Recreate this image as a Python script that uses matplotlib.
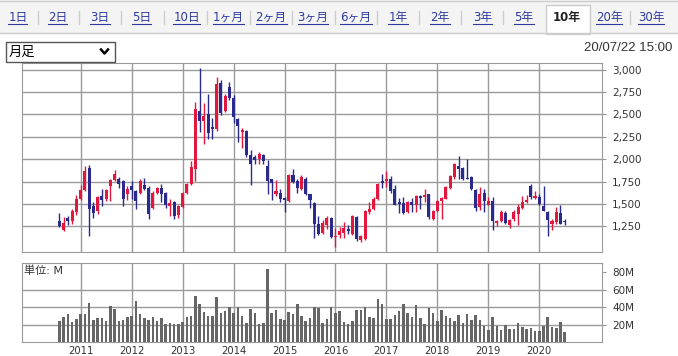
import numpy as np
import pandas as pd
import matplotlib
matplotlib.use('Agg')
import matplotlib.pyplot as plt
from matplotlib.patches import Rectangle
from matplotlib.lines import Line2D

plt.rcParams['font.family'] = ['DejaVu Sans', 'Noto Sans CJK JP']

# monthly candles, Aug 2010 - Jul 2020
months = pd.period_range('2010-08', '2020-07', freq='M')

open_ = [1310, 1213, 1343, 1310, 1407, 1560, 1653, 1903, 1477, 1422,
         1586, 1560, 1701, 1772, 1776, 1753, 1608, 1701, 1645, 1627,
         1709, 1683, 1459, 1623, 1683, 1623, 1474, 1522, 1373, 1466,
         1627, 1720, 1895, 2540, 2425, 2503, 2361, 2332, 2854, 2537,
         2809, 2686, 2444, 2298, 2317, 2052, 2026, 1999, 2044, 1925,
         1776, 1616, 1623, 1567, 1533, 1828, 1753, 1664, 1783, 1608,
         1511, 1272, 1175, 1261, 1347, 1135, 1149, 1179, 1224, 1160,
         1354, 1093, 1104, 1410, 1448, 1552, 1753, 1757, 1783, 1671,
         1522, 1511, 1410, 1522, 1492, 1589, 1578, 1608, 1336, 1418,
         1530, 1560, 1679, 1802, 1925, 1903, 1791, 1802, 1660, 1466,
         1627, 1492, 1530, 1291, 1306, 1403, 1261, 1328, 1384, 1459,
         1522, 1698, 1571, 1578, 1477, 1410, 1272, 1298, 1403, 1306]
high = [1400, 1354, 1362, 1444, 1604, 1709, 1925, 1933, 1522, 1586,
        1668, 1671, 1776, 1877, 1802, 1765, 1698, 1761, 1653, 1783,
        1791, 1698, 1641, 1690, 1727, 1630, 1560, 1530, 1492, 1634,
        1735, 1981, 2641, 3022, 2622, 2723, 2462, 2921, 2884, 2727,
        2865, 2716, 2462, 2350, 2324, 2100, 2052, 2082, 2063, 1988,
        1783, 1765, 1671, 1578, 1832, 1888, 1783, 1820, 1802, 1616,
        1522, 1366, 1317, 1366, 1354, 1231, 1243, 1298, 1261, 1373,
        1366, 1149, 1429, 1522, 1578, 1739, 1839, 1865, 1809, 1709,
        1567, 1578, 1530, 1567, 1597, 1597, 1671, 1616, 1429, 1541,
        1578, 1701, 1821, 1959, 2033, 1914, 2000, 1809, 1671, 1690,
        1671, 1578, 1578, 1317, 1436, 1418, 1336, 1429, 1504, 1586,
        1597, 1727, 1645, 1616, 1701, 1422, 1336, 1466, 1485, 1336]
low = [1240, 1198, 1261, 1280, 1377, 1548, 1645, 1138, 1343, 1392,
       1478, 1530, 1530, 1753, 1683, 1474, 1541, 1560, 1440, 1615,
       1653, 1336, 1448, 1615, 1522, 1459, 1366, 1336, 1347, 1459,
       1615, 1709, 1757, 2298, 2164, 2224, 2220, 2317, 2492, 2529,
       2660, 2406, 2194, 2130, 2026, 1716, 1951, 1951, 1944, 1608,
       1541, 1590, 1522, 1410, 1522, 1739, 1627, 1653, 1597, 1459,
       1123, 1157, 1160, 1224, 1123, 1019, 1119, 1123, 1168, 1149,
       1086, 1075, 1093, 1392, 1436, 1541, 1679, 1690, 1623, 1485,
       1399, 1392, 1403, 1410, 1410, 1448, 1522, 1336, 1325, 1410,
       1336, 1552, 1671, 1783, 1783, 1772, 1775, 1653, 1422, 1436,
       1410, 1485, 1213, 1254, 1298, 1272, 1235, 1306, 1261, 1448,
       1515, 1560, 1560, 1485, 1422, 1138, 1205, 1280, 1272, 1261]
close = [1255, 1287, 1313, 1422, 1560, 1653, 1869, 1448, 1403, 1578,
         1548, 1660, 1765, 1836, 1727, 1552, 1671, 1653, 1533, 1753,
         1671, 1392, 1623, 1683, 1616, 1485, 1515, 1366, 1478, 1627,
         1727, 1914, 2555, 2429, 2485, 2287, 2339, 2835, 2511, 2708,
         2679, 2466, 2373, 2324, 2052, 1951, 1996, 2063, 1981, 1757,
         1739, 1645, 1552, 1548, 1820, 1746, 1683, 1802, 1608, 1548,
         1272, 1160, 1291, 1347, 1131, 1142, 1198, 1235, 1198, 1366,
         1104, 1142, 1422, 1448, 1560, 1727, 1739, 1783, 1642, 1492,
         1504, 1403, 1522, 1492, 1589, 1571, 1604, 1354, 1418, 1530,
         1567, 1690, 1810, 1944, 1895, 1783, 1780, 1664, 1459, 1608,
         1530, 1530, 1306, 1306, 1410, 1287, 1325, 1410, 1466, 1522,
         1541, 1578, 1586, 1504, 1422, 1317, 1310, 1410, 1280, 1298]

# volume in millions
volume = [24.6, 29.1, 32.2, 23.8, 26.9, 32.6, 32.6, 44.8, 25.7, 28.0,
          28.0, 24.6, 41.7, 38.3, 24.6, 25.7, 29.1, 30.3, 47.4, 32.6,
          28.0, 25.7, 29.1, 24.6, 28.0, 21.1, 22.3, 21.1, 21.1, 23.4,
          29.1, 30.3, 53.2, 44.0, 34.9, 30.3, 30.3, 52.0, 33.7, 36.0,
          40.6, 33.7, 40.6, 30.3, 22.3, 38.3, 33.7, 21.1, 22.3, 84.0,
          33.7, 37.1, 26.9, 25.7, 34.9, 32.6, 44.0, 30.3, 24.6, 28.0,
          40.6, 39.4, 22.3, 26.9, 40.4, 33.7, 36.0, 23.8, 21.1, 24.6,
          37.1, 37.1, 40.2, 29.1, 28.0, 49.7, 44.0, 26.9, 26.9, 31.4,
          36.0, 44.0, 33.7, 29.1, 42.9, 28.0, 21.1, 39.4, 33.7, 24.6,
          37.1, 30.3, 28.0, 24.6, 31.4, 22.3, 32.6, 25.7, 31.4, 25.7,
          18.9, 14.3, 29.1, 18.9, 14.3, 20.0, 15.4, 15.4, 22.3, 17.7,
          15.4, 16.6, 13.1, 13.1, 18.9, 29.1, 17.7, 16.6, 23.4, 12.0]

years = ['2011', '2012', '2013', '2014', '2015', '2016', '2017', '2018', '2019', '2020']
price_ticks = [1250, 1500, 1750, 2000, 2250, 2500, 2750, 3000]
volume_ticks = [20, 40, 60, 80]
tabs = ['1日', '2日', '3日', '5日', '10日', '1ヶ月', '2ヶ月', '3ヶ月', '6ヶ月',
        '1年', '2年', '3年', '5年', '10年', '20年', '30年']
selected_tab = '10年'

UP = '#e3173e'
DOWN = '#2a2a8c'
GRID = '#9a9a9a'
W, H = 678, 356


def fx(px):
    return px / W


def fy(py):
    return 1 - py / H


o = np.array(open_, dtype=float)
c = np.array(close, dtype=float)
xpos = np.array((months.year - 2011) * 12 + months.month - 1, dtype=float)
colors = np.where(c >= o, UP, DOWN)
year_pos = [(int(y) - 2011) * 12 for y in years]

fig = plt.figure(figsize=(W / 100, H / 100), dpi=100)

# tab bar
fig.patches.append(Rectangle((0, fy(33)), 1, 33 / H, transform=fig.transFigure,
                             facecolor='#f4f4f4', edgecolor='none', zorder=0))
fig.lines.append(Line2D([0, 1], [fy(33), fy(33)], transform=fig.transFigure, color='#cccccc', lw=1))
fig.lines.append(Line2D([0, 1], [fy(0.5), fy(0.5)], transform=fig.transFigure, color='#cccccc', lw=1))

tab_x = [17.8, 57.4, 100, 141.7, 186.5, 228, 271, 313, 356, 398, 440, 482.6, 524, 567, 609, 651]
sel = tabs.index(selected_tab)
fig.patches.append(Rectangle((fx(546), fy(34)), fx(590) - fx(546), 29 / H, transform=fig.transFigure,
                             facecolor='white', edgecolor='#cccccc', lw=1, zorder=1))
tab_texts = []
for i, (lab, x) in enumerate(zip(tabs, tab_x)):
    if i == sel:
        fig.text(fx(x), fy(17), lab, ha='center', va='center', fontsize=8.5,
                 color='#222222', fontweight='bold', zorder=3)
    else:
        t = fig.text(fx(x), fy(17), lab, ha='center', va='center', fontsize=8.5,
                     color='#2d3a9e', zorder=3)
        tab_texts.append(t)
    if i < len(tabs) - 1 and i != sel and i + 1 != sel:
        mid = (x + tab_x[i + 1]) / 2
        fig.lines.append(Line2D([fx(mid), fx(mid)], [fy(11), fy(24)], transform=fig.transFigure,
                                color='#cccccc', lw=1))

# dropdown + timestamp
fig.patches.append(Rectangle((fx(6), fy(62)), fx(115) - fx(6), 20 / H, transform=fig.transFigure,
                             facecolor='white', edgecolor='#555555', lw=1))
fig.text(fx(9), fy(52.5), '月足', ha='left', va='center', fontsize=9.5, color='black')
fig.lines.append(Line2D([fx(101), fx(104.5), fx(108)], [fy(49.5), fy(53.5), fy(49.5)],
                        transform=fig.transFigure, color='black', lw=1.8))
fig.text(fx(672), fy(48), '20/07/22 15:00', ha='right', va='center', fontsize=9.5,
         color='#333333', family='Liberation Sans')

xlim = ((22 - 80.7) / 4.246, (602 - 80.7) / 4.246)

# price panel
ax = fig.add_axes([fx(22), fy(252), fx(602) - fx(22), 189 / H])
ax.vlines(xpos, low, high, colors=colors, lw=1, zorder=2)
ax.bar(xpos, np.maximum(np.abs(c - o), 8), bottom=np.minimum(o, c), width=0.72,
       color=colors, lw=0, zorder=3)
ax.set_xlim(*xlim)
ax.set_ylim(963, 3074)
ax.set_xticks(year_pos)
ax.set_yticks(price_ticks)
ax.set_yticklabels([f'{v:,}' for v in price_ticks])
ax.yaxis.tick_right()
ax.grid(color=GRID, lw=1)
ax.set_axisbelow(True)
ax.tick_params(axis='x', length=0, labelbottom=False)
ax.tick_params(axis='y', length=3, color=GRID, labelsize=7.5, pad=4.3, labelcolor='#333333')
for s in ax.spines.values():
    s.set_color(GRID)

# volume panel
ax2 = fig.add_axes([fx(22), fy(342.3), fx(602) - fx(22), 79 / H])
ax2.bar(xpos, volume, width=0.6, color='#666666', lw=0, zorder=3)
ax2.set_xlim(*xlim)
ax2.set_ylim(0, 90.5)
ax2.set_xticks(year_pos)
ax2.set_xticklabels(years)
ax2.set_yticks(volume_ticks)
ax2.set_yticklabels([f'{v}M' for v in volume_ticks])
ax2.yaxis.tick_right()
ax2.grid(color=GRID, lw=1)
ax2.yaxis.get_gridlines()[-1].set_visible(False)
ax2.set_axisbelow(True)
ax2.tick_params(axis='x', length=0, labelsize=7.2, pad=2.5, labelcolor='#333333')
ax2.tick_params(axis='y', length=3, color=GRID, labelsize=7.5, pad=4.3, labelcolor='#333333')
for s in ax2.spines.values():
    s.set_color(GRID)
fig.text(fx(24), fy(271), '単位: M', ha='left', va='center', fontsize=8, color='#333333')

# underline the tab links
fig.canvas.draw()
inv = fig.transFigure.inverted()
for t in tab_texts:
    bb = t.get_window_extent()
    (x0, y0), (x1, _) = inv.transform([[bb.x0, bb.y0], [bb.x1, bb.y1]])
    fig.lines.append(Line2D([x0, x1], [y0 - 0.5 / H, y0 - 0.5 / H], transform=fig.transFigure,
                            color='#2d3a9e', lw=0.8))

fig.savefig('out.png', dpi=100)
